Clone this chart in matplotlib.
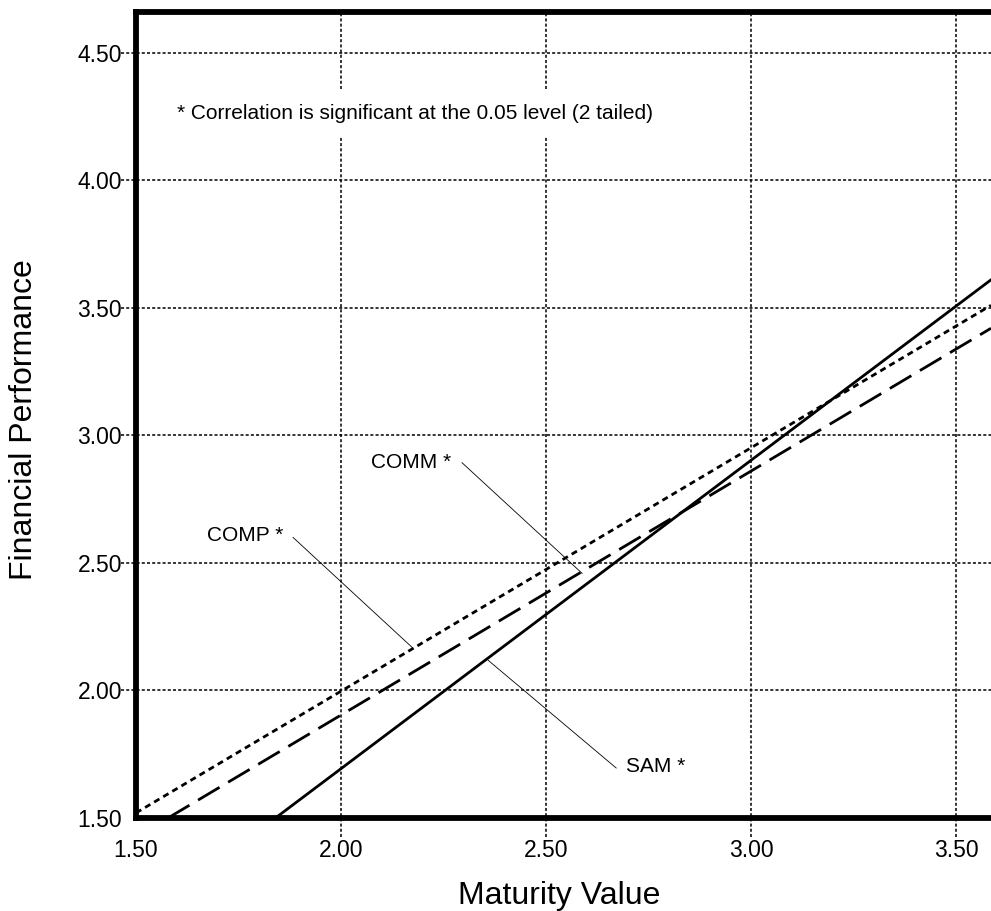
import matplotlib
matplotlib.use("Agg")
import matplotlib.pyplot as plt

plt.rcParams['font.family'] = ['Liberation Sans', 'DejaVu Sans']

# ----------------------------------------------------
# Data
# ----------------------------------------------------
x_ticks = [1.50, 2.00, 2.50, 3.00, 3.50]
y_ticks = [1.50, 2.00, 2.50, 3.00, 3.50, 4.00, 4.50]
x_limits = [1.50, 3.585]
y_limits = [1.50, 4.66]

# regression lines (end points)
comp_x = [1.50, 3.585]
comp_y = [1.52, 3.51]
comm_x = [1.578, 3.585]
comm_y = [1.50, 3.42]
sam_x = [1.84, 3.585]
sam_y = [1.50, 3.61]

# labels: text, text position, leader start, leader end
label_names = ["COMM *", "COMP *", "SAM *"]
label_pos = [(2.268, 2.893), (1.859, 2.608), (2.695, 1.700)]
label_ha = ["right", "right", "left"]
leader_from = [(2.295, 2.893), (1.883, 2.600), (2.671, 1.696)]
leader_to = [(2.588, 2.459), (2.176, 2.165), (2.359, 2.118)]

note = "* Correlation is significant at the 0.05 level (2 tailed)"
note_pos = (1.600, 4.263)

# ----------------------------------------------------
# Figure
# ----------------------------------------------------
fig = plt.figure(figsize=(9.91, 9.11), dpi=100)
ax = fig.add_axes([136 / 991, 93 / 911, 855 / 991, 806 / 911])
ax.set_xlim(*x_limits)
ax.set_ylim(*y_limits)

# dotted grid, running past the spines as tick marks
grid_style = dict(color="black", lw=1.1, linestyle=(0, (2, 1.4)), zorder=1)
for x in x_ticks[1:]:
    ax.plot([x, x], [-0.024, 1], transform=ax.get_xaxis_transform(),
            clip_on=False, **grid_style)
for y in y_ticks[1:]:
    ax.plot([-0.018, 1], [y, y], transform=ax.get_yaxis_transform(),
            clip_on=False, **grid_style)

ax.plot(comp_x, comp_y, color="black", lw=2.0, linestyle=(0, (2.2, 1.6)), zorder=3)
ax.plot(comm_x, comm_y, color="black", lw=2.0, linestyle=(0, (9, 3.6)), zorder=3)
ax.plot(sam_x, sam_y, color="black", lw=2.0, zorder=3)

for name, pos, ha, p0, p1 in zip(label_names, label_pos, label_ha, leader_from, leader_to):
    ax.plot([p0[0], p1[0]], [p0[1], p1[1]], color="black", lw=0.6, zorder=4)
    ax.text(pos[0], pos[1], name, ha=ha, va="center", fontsize=15, zorder=5)

ax.text(note_pos[0], note_pos[1], note, ha="left", va="center", fontsize=15, zorder=5,
        bbox=dict(facecolor="white", edgecolor="none", boxstyle="square,pad=0.65"))

ax.set_xticks(x_ticks)
ax.set_xticklabels([f"{v:.2f}" for v in x_ticks])
ax.set_yticks(y_ticks)
ax.set_yticklabels([f"{v:.2f}" for v in y_ticks])
ax.tick_params(axis="both", length=0, labelsize=16.5)
ax.tick_params(axis="x", pad=15)
ax.tick_params(axis="y", pad=10)

for side in ["left", "bottom", "top"]:
    ax.spines[side].set_linewidth(4.2)
    ax.spines[side].set_zorder(6)
ax.spines["right"].set_visible(False)

fig.text(24 / 991, 1 - 420 / 911, "Financial Performance", rotation=90,
         ha="center", va="center", fontsize=23)
fig.text(559 / 991, 7 / 911, "Maturity Value", ha="center", va="baseline", fontsize=23)

fig.savefig("out.png", dpi=100)
